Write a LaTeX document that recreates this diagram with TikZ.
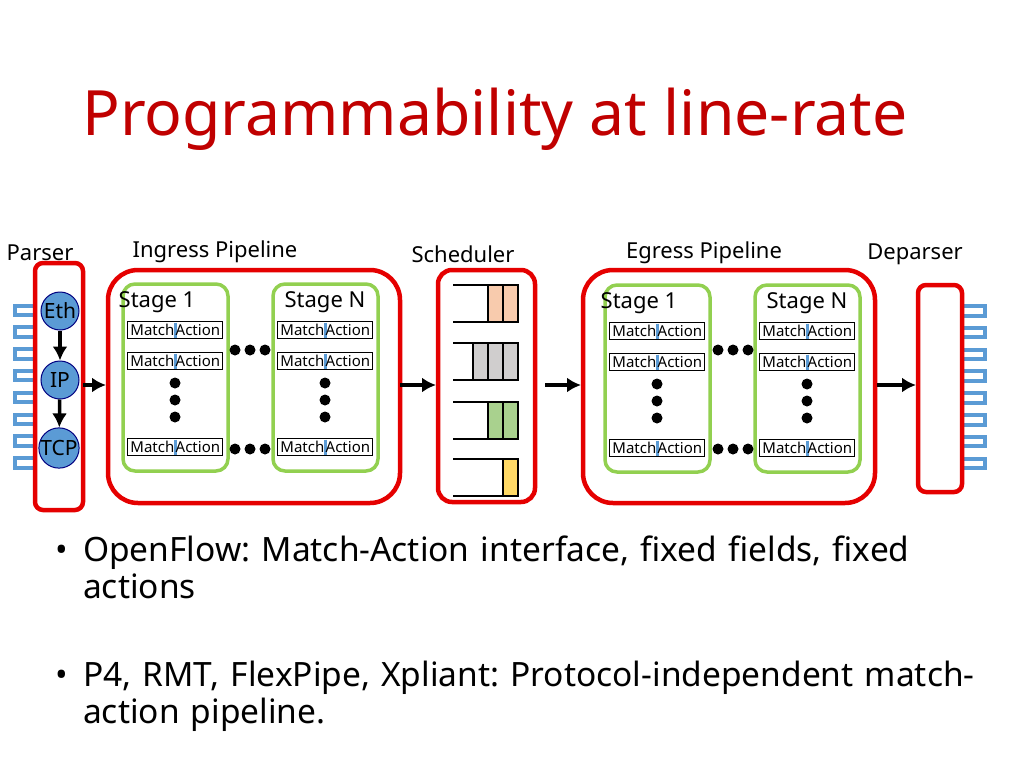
\documentclass[tikz,border=0pt]{standalone}
\usepackage{fontspec}
\setmainfont{Noto Sans}
\usetikzlibrary{arrows.meta}
\begin{document}
\frenchspacing
\begin{tikzpicture}[x=1pt,y=-1pt,
 redbox/.style={draw=red!90!black,line width=4.5pt,rounded corners=#1},
 greenbox/.style={line width=3.5pt,rounded corners=12pt},
 proto/.style={circle,draw=blue!50!black,line width=1pt,minimum size=38pt,inner sep=0pt,font=\fontsize{21}{21}\selectfont},
 arr/.style={-{Latex[length=14pt,width=15pt]},line width=3.5pt},
 lab/.style={font=\fontsize{22}{22}\selectfont},
 ma/.style={draw,line width=1.3pt,minimum width=95pt,minimum height=17pt,inner sep=0pt},
 dot/.style={circle,fill=black,inner sep=0pt,minimum size=11pt},
 q/.style={line width=1.3pt}]
\useasboundingbox (0,0) rectangle (1024,768);
\definecolor{ttl}{RGB}{192,0,0}
\definecolor{pb}{RGB}{91,155,213}
\node[anchor=base west,inner sep=0pt,text=ttl,font=\fontsize{62.5}{62.5}\selectfont] (title) at (82,135) {Programmability at line-rate};
% labels
\node[lab] (lp) at (40,253) {Parser};
\node[lab] (li) at (215,252) {Ingress Pipeline};
\node[lab] (ls) at (463,254) {Scheduler};
\node[lab] (le) at (704,253) {Egress Pipeline};
\node[lab] (ld) at (915,254) {Deparser};
% ports
\foreach \i in {0,...,7}{
 \draw[draw=pb,line width=4pt] (35,{305.5+21.8*\i}) -- (15,{305.5+21.8*\i}) -- (15,{315+21.8*\i}) -- (35,{315+21.8*\i});
 \draw[draw=pb,line width=4pt] (962,{306+21.8*\i}) -- (985,{306+21.8*\i}) -- (985,{315.5+21.8*\i}) -- (962,{315.5+21.8*\i});
}
% boxes
\draw[redbox=8pt,fill=white] (35,263) rectangle (83,510);
\coordinate (parR) at (83,385);
\node[proto,fill=pb] (eth) at (60,311) {Eth};
\node[proto,fill=pb] (ip) at (60,380) {IP};
\node[proto,fill=pb] (tcp) at (59,448) {TCP};
\draw[arr] (eth) -- (ip);
\draw[arr] (ip) -- (tcp);
\draw[redbox=30pt] (108,270) rectangle (400,503);
\draw[redbox=14pt] (438,270) rectangle (535,502);
\draw[redbox=30pt] (583,270) rectangle (875,503);
\draw[redbox=8pt,fill=white] (918,285) rectangle (962,492);
\coordinate (ingL) at (106,385); \coordinate (ingR) at (400,385);
\coordinate (schL) at (436,385); \coordinate (schR) at (545,385);
\coordinate (egL) at (581,385); \coordinate (egR) at (877,385);
\coordinate (depL) at (916,385);
\draw[arr] (parR) -- (ingL);
\draw[arr] (ingR) -- (schL);
\draw[arr] (schR) -- (egL);
\draw[arr] (egR) -- (depL);
% stages
\foreach \n/\x/\yo/\t/\lx in {a/123/0/Stage 1/157,b/273/0/Stage N/325,c/605/1/Stage 1/639,d/755/1/Stage N/807}{
 \draw[greenbox,draw={rgb,255:red,146;green,208;blue,80}] (\x,{284+\yo}) rectangle ({\x+105},{471+\yo});
 \node[font=\fontsize{22}{22}\selectfont] (st\n) at (\lx,{302+\yo}) {\t};
 \foreach \m/\y in {1/330,2/361,3/447}{
  \node[ma] (ma\n\m) at ({\x+52},{\y+\yo}) {};
  \draw[draw=pb,line width=3pt] ({\x+52},{\y+\yo-7.5}) -- ({\x+52},{\y+\yo+7.5});
  \node[anchor=east,inner sep=0.5pt,font=\fontsize{15}{15}\selectfont] at ({\x+52},{\y+\yo}) {Match};
  \node[anchor=west,inner sep=0.5pt,font=\fontsize{15}{15}\selectfont] at ({\x+52},{\y+\yo}) {Action};
 }
 \foreach \y in {383,400,417} \node[dot] at ({\x+52},{\y+\yo}) {};
}
\foreach \x in {235,250,265,718,733,748}{
 \node[dot] at (\x,350) {};
 \node[dot] at (\x,449) {};
}
% scheduler queues
\definecolor{qo}{RGB}{248,203,173}\definecolor{qg}{RGB}{208,206,206}
\definecolor{qn}{RGB}{169,209,142}\definecolor{qy}{RGB}{255,217,102}
\foreach \t/\c/\n in {285/qo/2,343/qg/3,402/qn/2,459/qy/1}{
 \foreach \k in {1,...,\n} \draw[q,fill=\c] ({518-15*\k},\t) rectangle ({533-15*\k},{\t+37});
 \draw[q] (453,\t) -- (518,\t) -- (518,{\t+37}) -- (453,{\t+37});
}
% bullets
\node[anchor=base west,inner sep=0pt,font=\fontsize{33.5}{36}\selectfont] (b1) at (55,561) {\textbullet};
\node[anchor=base west,inner sep=0pt,font=\fontsize{33.5}{37}\selectfont,align=left,text width=950pt] (t1) at (83,561) {OpenFlow: Match-Action interface, fixed fields, fixed\\actions};
\node[anchor=base west,inner sep=0pt,font=\fontsize{33.5}{36}\selectfont] (b2) at (55,686) {\textbullet};
\node[anchor=base west,inner sep=0pt,font=\fontsize{33.5}{37}\selectfont,align=left,text width=950pt] (t2) at (83,686) {P4, RMT, FlexPipe, Xpliant: Protocol-independent match-\\action pipeline.};
\end{tikzpicture}
\end{document}
